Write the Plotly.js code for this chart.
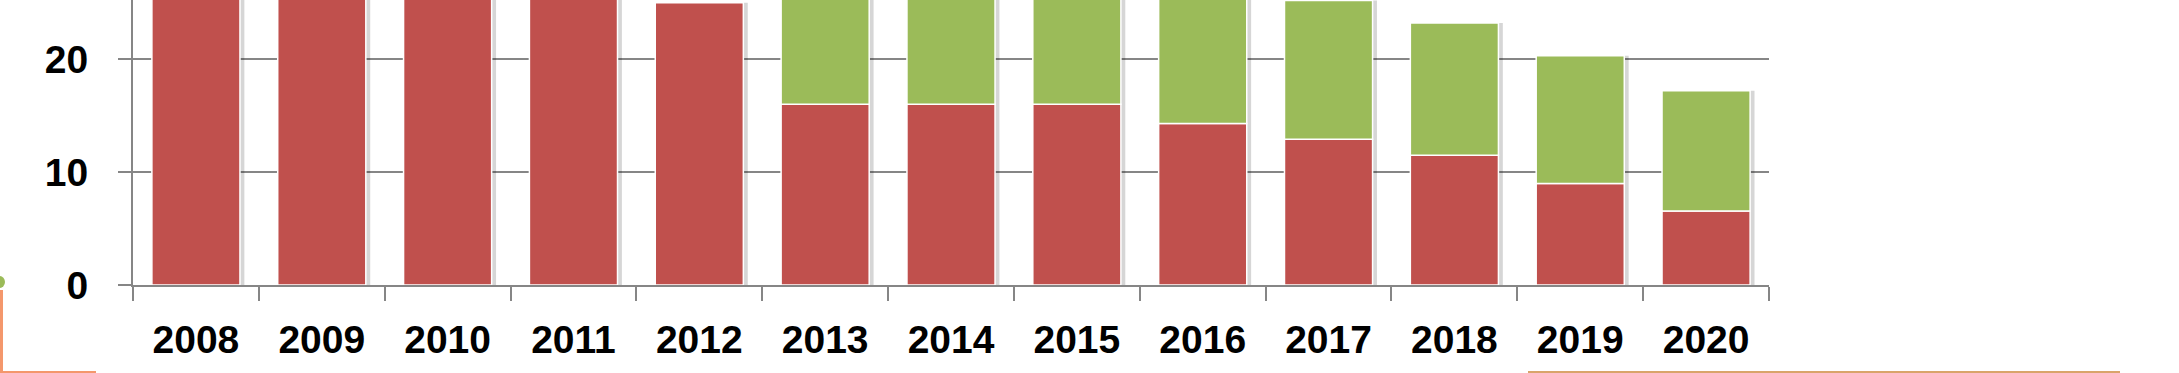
<!DOCTYPE html>
<html>
<head>
<meta charset="utf-8">
<script src="https://cdn.plot.ly/plotly-3.0.1.min.js"></script>
<style>
html, body { margin: 0; padding: 0; background: #ffffff; }
#chart { width: 2179px; height: 373px; }
</style>
</head>
<body>
<div id="chart"></div>
<script>
// ---- data (bars above ~25 are cut off in the reference, so their tops are estimates) ----
const years = ['2008','2009','2010','2011','2012','2013','2014','2015','2016','2017','2018','2019','2020'];
const redValues = [30, 30, 30, 29.5, 25.0, 16.0, 16.0, 16.0, 14.3, 12.9, 11.5, 9.0, 6.55];
const greenValues = [0, 0, 0, 0, 0, 12.0, 12.0, 12.0, 12.7, 12.3, 11.7, 11.3, 10.65];
const yTickValues = [0, 10, 20];
const yTickLabels = ['0', '10', '20'];

const totals = redValues.map((v, i) => v + greenValues[i]);
const greenBase = redValues.slice();

const RED = '#C0504D';
const GREEN = '#9BBB59';
const AXIS = '#868686';
const BAR_W = 0.70;

const tickFont = { family: 'Liberation Sans, Arial, sans-serif', size: 39, color: '#000000', weight: 'bold' };

const traces = [
  { // soft drop shadow behind each stack
    type: 'bar', x: years, y: totals, base: 0,
    width: BAR_W, offset: -BAR_W / 2 + 0.035,
    marker: { color: 'rgba(0,0,0,0.16)', line: { width: 0 } },
    hoverinfo: 'skip', showlegend: false
  },
  {
    type: 'bar', name: 'red', x: years, y: redValues, base: 0,
    width: BAR_W, offset: -BAR_W / 2,
    marker: { color: RED, line: { color: '#ffffff', width: 1.5 } },
    hoverinfo: 'skip', showlegend: false
  },
  {
    type: 'bar', name: 'green', x: years,
    y: greenValues.map(v => v > 0 ? v : null), base: greenBase,
    width: BAR_W, offset: -BAR_W / 2,
    marker: { color: GREEN, line: { color: '#ffffff', width: 1.5 } },
    hoverinfo: 'skip', showlegend: false
  }
];

const W = 2179, H = 373;
const ML = 133, MR = 410, MT = 0, MB = 88;
const PW = W - ML - MR, PH = H - MT - MB;
const px = p => (p - ML) / PW;           // pixel -> paper x
const py = p => 1 - (p - MT) / PH;        // pixel -> paper y

const layout = {
  width: W, height: H,
  margin: { l: ML, r: MR, t: MT, b: MB, pad: 0 },
  paper_bgcolor: '#ffffff', plot_bgcolor: '#ffffff',
  barmode: 'overlay',
  showlegend: false,
  xaxis: {
    type: 'category',
    tickson: 'boundaries',
    ticks: 'outside', ticklen: 14, tickwidth: 2, tickcolor: AXIS,
    showline: true, linecolor: AXIS, linewidth: 2,
    showgrid: false, zeroline: false,
    tickfont: tickFont,
    ticklabelstandoff: 19,
    fixedrange: true
  },
  yaxis: {
    range: [0, 25.24],
    tickvals: yTickValues, ticktext: yTickLabels,
    ticks: 'outside', ticklen: 13, tickwidth: 2, tickcolor: AXIS,
    showline: true, linecolor: AXIS, linewidth: 2,
    showgrid: true, gridcolor: AXIS, gridwidth: 2,
    zeroline: false,
    tickfont: tickFont,
    ticklabelstandoff: 22,
    fixedrange: true
  },
  shapes: [
    // stray fragments of the neighbouring graphic seen at the crop edges
    { type: 'line', xref: 'paper', yref: 'paper', x0: px(1.5), x1: px(1.5), y0: py(290), y1: py(373), line: { color: '#F4976C', width: 3 } },
    { type: 'line', xref: 'paper', yref: 'paper', x0: px(0), x1: px(96), y0: py(372), y1: py(372), line: { color: '#F4976C', width: 2 } },
    { type: 'circle', xref: 'paper', yref: 'paper', x0: px(-6), x1: px(5), y0: py(276), y1: py(288), fillcolor: '#9BBB59', line: { width: 0 } },
    { type: 'line', xref: 'paper', yref: 'paper', x0: px(1528), x1: px(2120), y0: py(372), y1: py(372), line: { color: '#D9A46A', width: 2 } }
  ]
};

Plotly.newPlot('chart', traces, layout, { staticPlot: true, displayModeBar: false });
</script>
</body>
</html>
